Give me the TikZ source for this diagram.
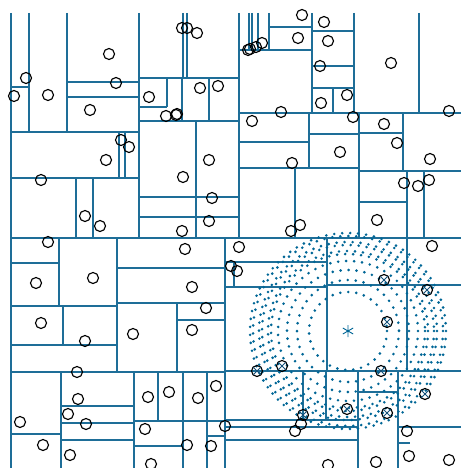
\documentclass[tikz,border=0pt]{standalone}
\usetikzlibrary{calc}
\definecolor{linec}{RGB}{30,110,152}
\definecolor{dotc}{RGB}{0,102,150}
\definecolor{xc}{RGB}{20,80,120}
\begin{document}
\begin{tikzpicture}[x=1pt,y=-1pt,
  seg/.style={draw=linec,line width=1.25pt},
  pt/.style={draw=black,line width=1.15pt},
  ring/.style={draw=dotc,line width=2.9pt,line cap=round,dash pattern=on 0pt off 8pt}]
\useasboundingbox (0,0) rectangle (461,468);
% vertical lines (x, y1, y2)
\foreach \x/\a/\b in {11/13/468,29/13/132,67/13/132,139/13/238,119/132/178,125/132/178,
  76/178/238,93/178/238,167/78/107,182/78/121,209/78/121,183/13/78,187/13/78,196/121/238,
  239/13/238,249/13/50,252/13/50,258/13/50,269/13/50,312/13/113,354/13/113,333/88/113,
  419/13/113,309/113/168,359/113/238,403/113/171,295/168/238,407/171/238,424/171/238,
  225/238/468,59/238/306,117/238/372,63/306/345,177/303/372,61/372/468,134/372/468,
  158/372/421,183/372/468,207/372/468,234/262/287,327/238/371,407/238/371,303/371/420,
  326/371/420,358/371/468,398/371/468}
  \draw[seg] (\x,\a) -- (\x,\b);
% horizontal lines (y, x1, x2)
\foreach \y/\a/\b in {87/11/29,82/67/139,97/67/139,132/11/139,178/11/139,238/11/461,
  78/139/239,107/139/167,121/139/239,197/139/239,217/139/239,27/269/312,50/239/312,
  31/312/354,66/312/354,88/312/354,113/239/461,142/239/309,134/309/359,133/359/403,
  168/239/359,171/359/461,202/359/407,263/11/59,306/11/117,345/11/117,372/11/225,
  434/11/61,406/61/134,423/61/134,440/61/134,421/134/225,446/134/183,436/207/225,
  268/117/225,303/117/225,320/177/225,262/225/327,287/225/327,285/327/461,371/225/461,
  392/358/398,420/225/358,427/225/358,427/398/461,440/225/358,443/398/410}
  \draw[seg] (\a,\y) -- (\b,\y);
% dotted search rings around the query point
\coordinate (q) at (348,331);
\foreach \r in {39,51,61,70,77,80,86,89,95,98}
  \draw[ring] (q) circle (\r);
% data points
\foreach \x/\y in {109/54,26/78,14/96,48/95,116/83,149/97,90/110,121/140,129/147,106/160,
  41/180,85/216,100/226,182/28,187/28,197/33,200/88,218/86,166/116,176/115,177/114,
  209/160,183/177,212/198,209/221,182/231,248/50,250/49,256/47,262/43,302/15,298/38,
  324/22,328/41,391/63,320/66,347/95,321/103,281/112,252/121,353/117,384/124,397/143,
  340/152,292/163,430/159,404/183,418/186,429/180,377/220,300/225,291/231,449/111,
  48/242,36/283,93/278,41/323,85/341,133/334,77/372,78/399,68/414,86/424,20/422,
  148/397,145/429,43/445,70/455,151/464,185/249,192/287,206/308,192/330,169/392,
  198/398,216/386,187/445,211/446,239/247,231/266,237/271,432/246,225/426,301/424,
  295/431,407/431,409/456,449/460,376/462,328/465}
  \draw[pt] (\x,\y) circle (5.5);
% points found in range
\foreach \x/\y in {384/280,427/290,387/322,257/371,282/366,381/371,425/394,303/415,347/409,387/413}{
  \draw[pt] (\x,\y) circle (5.5);
  \draw[xc,line width=1pt] ($(\x,\y)+(-3.6,-3.6)$) -- ($(\x,\y)+(3.6,3.6)$)
    ($(\x,\y)+(-3.6,3.6)$) -- ($(\x,\y)+(3.6,-3.6)$);
}
% query point
\draw[dotc,line width=0.9pt] ($(q)+(0,-6)$) -- ($(q)+(0,6)$)
  ($(q)+(-5.2,-3)$) -- ($(q)+(5.2,3)$) ($(q)+(-5.2,3)$) -- ($(q)+(5.2,-3)$);
\end{tikzpicture}
\end{document}
